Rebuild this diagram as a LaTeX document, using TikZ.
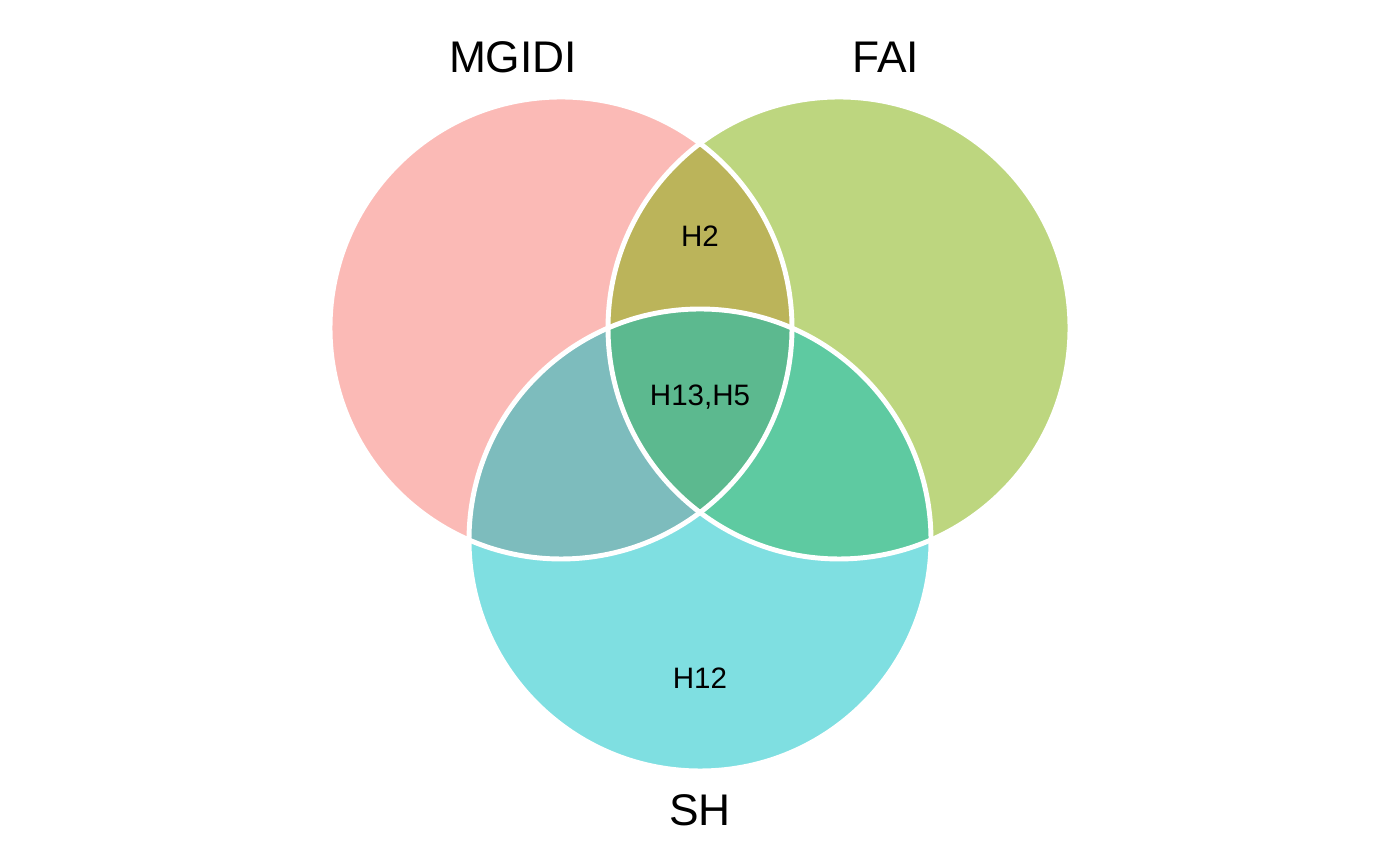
\documentclass[tikz,border=0pt]{standalone}
\usepackage{fontspec}
\setmainfont{Liberation Sans}
\definecolor{cM}{HTML}{F8766D}
\definecolor{cF}{HTML}{7CAE00}
\definecolor{cS}{HTML}{00BFC4}
\begin{document}
\begin{tikzpicture}[x=0.01cm,y=-0.01cm,
  setfill/.style={fill opacity=0.5},
  outline/.style={draw=white, line width=1.4pt},
  setname/.style={font=\fontsize{12.6pt}{15pt}\selectfont, text=black, inner sep=0pt},
  regionlabel/.style={font=\fontsize{8.4pt}{10pt}\selectfont, text=black, inner sep=0pt}]
\useasboundingbox (0,0) rectangle (1400,865);
\coordinate (cmg) at (561,328);
\coordinate (cfa) at (839,328);
\coordinate (csh) at (700,540);
\fill[cM, setfill] (cmg) circle (231);
\fill[cF, setfill] (cfa) circle (231);
\fill[cS, setfill] (csh) circle (231);
\draw[outline] (cmg) circle (231);
\draw[outline] (cfa) circle (231);
\draw[outline] (csh) circle (231);
\node[setname] (lmg) at (513,57) {MGIDI};
\node[setname] (lfa) at (886,57) {FAI};
\node[setname] (lsh) at (700,810) {SH};
\node[regionlabel] (h2) at (700,236) {H2};
\node[regionlabel] (h135) at (700,397) {H13,H5};
\node[regionlabel] (h12) at (700,678) {H12};
\end{tikzpicture}
\end{document}
